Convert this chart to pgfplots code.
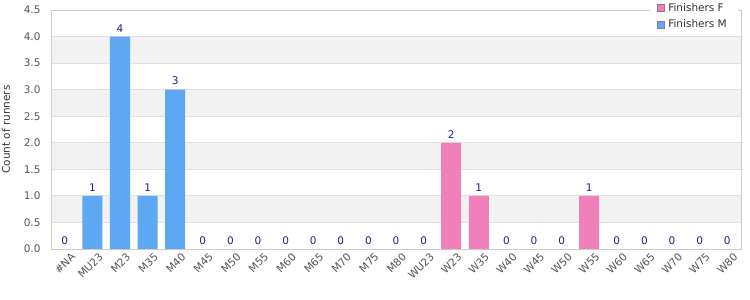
\documentclass[border=0pt]{standalone}
\usepackage{pgfplots}
\usepackage{pgfplotstable}
\pgfplotsset{compat=1.18}
\usepackage{fontspec}
\setmainfont{DejaVu Sans}
\definecolor{barM}{RGB}{94,167,242}
\definecolor{barF}{RGB}{240,128,186}
\definecolor{lab}{RGB}{30,30,140}
\definecolor{tickc}{RGB}{85,85,85}
\definecolor{framec}{RGB}{204,204,204}
\definecolor{gridc}{RGB}{224,224,224}
\definecolor{bandc}{RGB}{242,242,242}

\pgfplotstableread{
x T
0 0
1 1
2 4
3 1
4 3
5 0
6 0
7 0
8 0
9 0
10 0
11 0
12 0
13 0
14 2
15 1
16 0
17 0
18 0
19 1
20 0
21 0
22 0
23 0
24 0
}\totaltable

\begin{document}
\begin{tikzpicture}[font=\fontsize{10.5}{12}\selectfont]
\begin{axis}[
  set layers=standard,
  scale only axis,
  width=690pt, height=239pt,
  xmin=-0.5, xmax=24.5, ymin=0, ymax=4.5,
  ytick={0,0.5,1,1.5,2,2.5,3,3.5,4,4.5},
  yticklabel style={/pgf/number format/.cd, fixed, fixed zerofill, precision=1, /tikz/.cd, text=tickc, xshift=-7pt},
  xtick={0,...,24},
  xticklabels={\#NA,MU23,M23,M35,M40,M45,M50,M55,M60,M65,M70,M75,M80,WU23,W23,W35,W40,W45,W50,W55,W60,W65,W70,W75,W80},
  xticklabel style={rotate=45, anchor=north east, text=tickc, inner sep=0pt, xshift=2pt, yshift=-6pt},
  /pgf/number format/assume math mode=true,
  ymajorgrids,
  major grid style={draw=gridc, line width=0.8pt},
  axis line style={draw=framec, line width=0.8pt},
  major tick length=0pt,
  tick style={draw=none},
  ylabel={Count of runners},
  ylabel style={at={(axis description cs:-0.0652,0.5)}, anchor=center, text=black!80},
  legend style={draw=none, fill=white, at={(axis description cs:1,1)}, anchor=north east, xshift=-3pt, yshift=10pt, inner xsep=7pt, inner ysep=1pt, row sep=3pt, font=\fontsize{10.5}{12}\selectfont, text=black!80,
    nodes={inner xsep=4pt}},
  legend cell align=left,
  legend image code/.code={\draw[#1, draw=gray, line width=0.6pt] (0pt,-3.5pt) rectangle (7pt,3.5pt);},
]
\begin{pgfonlayer}{axis background}
\fill[bandc] (axis cs:-0.5,0.5) rectangle (axis cs:24.5,1.0);
\fill[bandc] (axis cs:-0.5,1.5) rectangle (axis cs:24.5,2.0);
\fill[bandc] (axis cs:-0.5,2.5) rectangle (axis cs:24.5,3.0);
\fill[bandc] (axis cs:-0.5,3.5) rectangle (axis cs:24.5,4.0);
\end{pgfonlayer}
\addplot[ybar, bar width=20pt, bar shift=0pt, fill=barF, draw=none] coordinates {(14,2) (15,1) (19,1)};
\addplot[ybar, bar width=20pt, bar shift=0pt, fill=barM, draw=none] coordinates {(1,1) (2,4) (3,1) (4,3)};
\addplot[draw=none, mark=none, forget plot, nodes near coords, point meta=explicit,
  every node near coord/.style={anchor=south, text=lab, yshift=1pt, font=\fontsize{10.5}{12}\selectfont}]
  table[x=x, y=T, meta=T] {\totaltable};
\legend{Finishers F, Finishers M}
\coordinate (LL) at (rel axis cs:0,0);
\coordinate (UR) at (rel axis cs:1,1);
\end{axis}
\pgfresetboundingbox
\path ([xshift=-51pt, yshift=-51pt]LL) rectangle ([xshift=9pt, yshift=10pt]UR);
\end{tikzpicture}
\end{document}
